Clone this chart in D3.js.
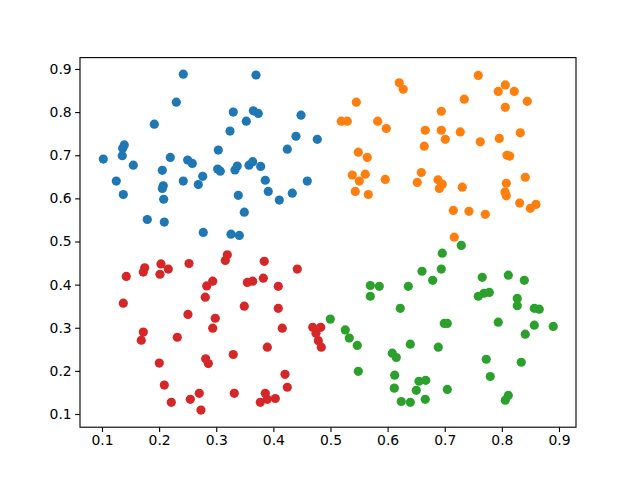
<!DOCTYPE html>
<html>
<head>
<meta charset="utf-8">
<script src="https://cdn.jsdelivr.net/npm/d3@7"></script>
<style>
  html, body { margin: 0; padding: 0; background: #fff; }
  svg { display: block; }
</style>
</head>
<body>
<svg id="chart" width="640" height="480"></svg>
<script>
// ---- data ----
const blueX = [0.2423,0.2301,0.1916,0.1390,0.1362,0.1355,0.1023,0.2196,0.2500,0.2581,0.1548,0.2056,0.2763,0.1250,0.2423,0.2686,0.2073,0.2056,0.1373,0.2080,0.1793,0.2091,0.2773,0.3696,0.3298,0.3649,0.3736,0.4484,0.3526,0.3241,0.4396,0.4769,0.3036,0.4244,0.3025,0.3071,0.3368,0.3328,0.3638,0.3573,0.3778,0.3859,0.3911,0.3386,0.4594,0.4331,0.4104,0.3491,0.3258,0.3404];
const blueY = [0.888,0.823,0.772,0.724,0.716,0.699,0.691,0.695,0.689,0.681,0.677,0.665,0.651,0.640,0.640,0.632,0.629,0.623,0.609,0.598,0.551,0.545,0.521,0.886,0.800,0.803,0.797,0.793,0.779,0.756,0.744,0.737,0.712,0.714,0.668,0.663,0.675,0.666,0.685,0.677,0.674,0.642,0.616,0.607,0.640,0.612,0.596,0.568,0.517,0.514];

const orangeX = [0.6204,0.6274,0.5452,0.5189,0.5294,0.5826,0.5977,0.6940,0.6659,0.6940,0.7010,0.6642,0.5487,0.5644,0.5382,0.5609,0.5504,0.5959,0.5434,0.5662,0.6590,0.6519,0.6882,0.6957,0.6905,0.7587,0.8060,0.7937,0.8217,0.7342,0.8445,0.8060,0.7272,0.7622,0.7955,0.8323,0.8090,0.8137,0.7307,0.8078,0.8410,0.8055,0.8078,0.8312,0.8498,0.8597,0.7150,0.7424,0.7710,0.7167];
const orangeY = [0.868,0.853,0.823,0.779,0.779,0.779,0.762,0.802,0.758,0.758,0.737,0.721,0.707,0.695,0.654,0.656,0.640,0.644,0.616,0.609,0.660,0.637,0.643,0.633,0.623,0.885,0.863,0.848,0.848,0.830,0.825,0.811,0.754,0.731,0.739,0.752,0.700,0.698,0.626,0.635,0.649,0.615,0.606,0.589,0.577,0.586,0.572,0.570,0.563,0.510];

const greenX = [0.6602,0.6789,0.5697,0.5854,0.6362,0.5697,0.6222,0.4997,0.5259,0.5329,0.5469,0.6397,0.6082,0.6152,0.5487,0.6124,0.6117,0.6549,0.6667,0.6502,0.6659,0.6239,0.6397,0.7290,0.6957,0.6940,0.7657,0.8113,0.8393,0.7587,0.7687,0.7780,0.8270,0.8270,0.8568,0.8655,0.6992,0.7045,0.7937,0.8568,0.8900,0.8410,0.6887,0.7727,0.8340,0.7797,0.7045,0.8113,0.8060];
const greenY = [0.431,0.410,0.398,0.396,0.396,0.373,0.345,0.320,0.295,0.276,0.259,0.262,0.241,0.231,0.199,0.190,0.160,0.176,0.178,0.155,0.134,0.129,0.127,0.491,0.473,0.436,0.417,0.422,0.410,0.373,0.380,0.382,0.368,0.351,0.345,0.343,0.310,0.310,0.313,0.306,0.303,0.285,0.255,0.227,0.220,0.187,0.157,0.143,0.132];

const redX = [0.1748,0.1723,0.2033,0.2161,0.2015,0.1425,0.2523,0.2938,0.2833,0.2808,0.1373,0.2505,0.2983,0.2938,0.1723,0.1688,0.2318,0.2003,0.2815,0.2861,0.2091,0.2703,0.2546,0.2213,0.2733,0.3194,0.3159,0.3841,0.4419,0.3544,0.3638,0.3824,0.4086,0.3491,0.4086,0.4156,0.4689,0.4829,0.4746,0.4787,0.4839,0.3894,0.3298,0.4204,0.4244,0.3316,0.3859,0.3771,0.3894,0.4034];
const redY = [0.439,0.429,0.448,0.436,0.424,0.419,0.449,0.408,0.397,0.371,0.357,0.331,0.322,0.299,0.290,0.271,0.278,0.218,0.228,0.217,0.167,0.148,0.134,0.127,0.109,0.469,0.456,0.454,0.436,0.405,0.408,0.415,0.396,0.350,0.345,0.299,0.301,0.301,0.287,0.270,0.255,0.255,0.238,0.192,0.162,0.148,0.148,0.127,0.134,0.136];

const xTicks = [0.1,0.2,0.3,0.4,0.5,0.6,0.7,0.8,0.9];
const yTicks = [0.1,0.2,0.3,0.4,0.5,0.6,0.7,0.8,0.9];
const xLimits = [0.0615, 0.9298];
const yLimits = [0.0694, 0.9264];

const seriesList = [
  {x: blueX, y: blueY, color: "#1f77b4"},
  {x: orangeX, y: orangeY, color: "#ff7f0e"},
  {x: greenX, y: greenY, color: "#2ca02c"},
  {x: redX, y: redY, color: "#d62728"}
];

// ---- layout ----
const plotL = 80, plotR = 576, plotT = 57.6, plotB = 427.2;

const svg = d3.select("#chart");
const x = d3.scaleLinear().domain(xLimits).range([plotL, plotR]);
const y = d3.scaleLinear().domain(yLimits).range([plotB, plotT]);

const fmt = d3.format(".1f");

// points
const gPts = svg.append("g");
seriesList.forEach(s => {
  const pts = s.x.map((v, i) => [v, s.y[i]]);
  gPts.append("g").selectAll("circle").data(pts).enter().append("circle")
    .attr("cx", d => x(d[0]))
    .attr("cy", d => y(d[1]))
    .attr("r", 4.6)
    .attr("fill", s.color);
});

// axes
const xAxis = d3.axisBottom(x).tickValues(xTicks).tickFormat(fmt).tickSize(4.86).tickPadding(3.5);
const yAxis = d3.axisLeft(y).tickValues(yTicks).tickFormat(fmt).tickSize(4.86).tickPadding(3.5);

const gx = svg.append("g").attr("transform", `translate(0,${plotB})`).call(xAxis);
const gy = svg.append("g").attr("transform", `translate(${plotL},0)`).call(yAxis);
[gx, gy].forEach(g => {
  g.select(".domain").remove();
  g.selectAll(".tick line").attr("stroke", "#000").attr("stroke-width", 0.8 * 100 / 72);
  g.selectAll(".tick text").attr("fill", "#000")
    .style("font-family", "'DejaVu Sans', sans-serif")
    .style("font-size", "13.9px");
});

// spines
svg.append("rect")
  .attr("x", plotL).attr("y", plotT)
  .attr("width", plotR - plotL).attr("height", plotB - plotT)
  .attr("fill", "none").attr("stroke", "#000").attr("stroke-width", 0.8 * 100 / 72);
</script>
</body>
</html>
